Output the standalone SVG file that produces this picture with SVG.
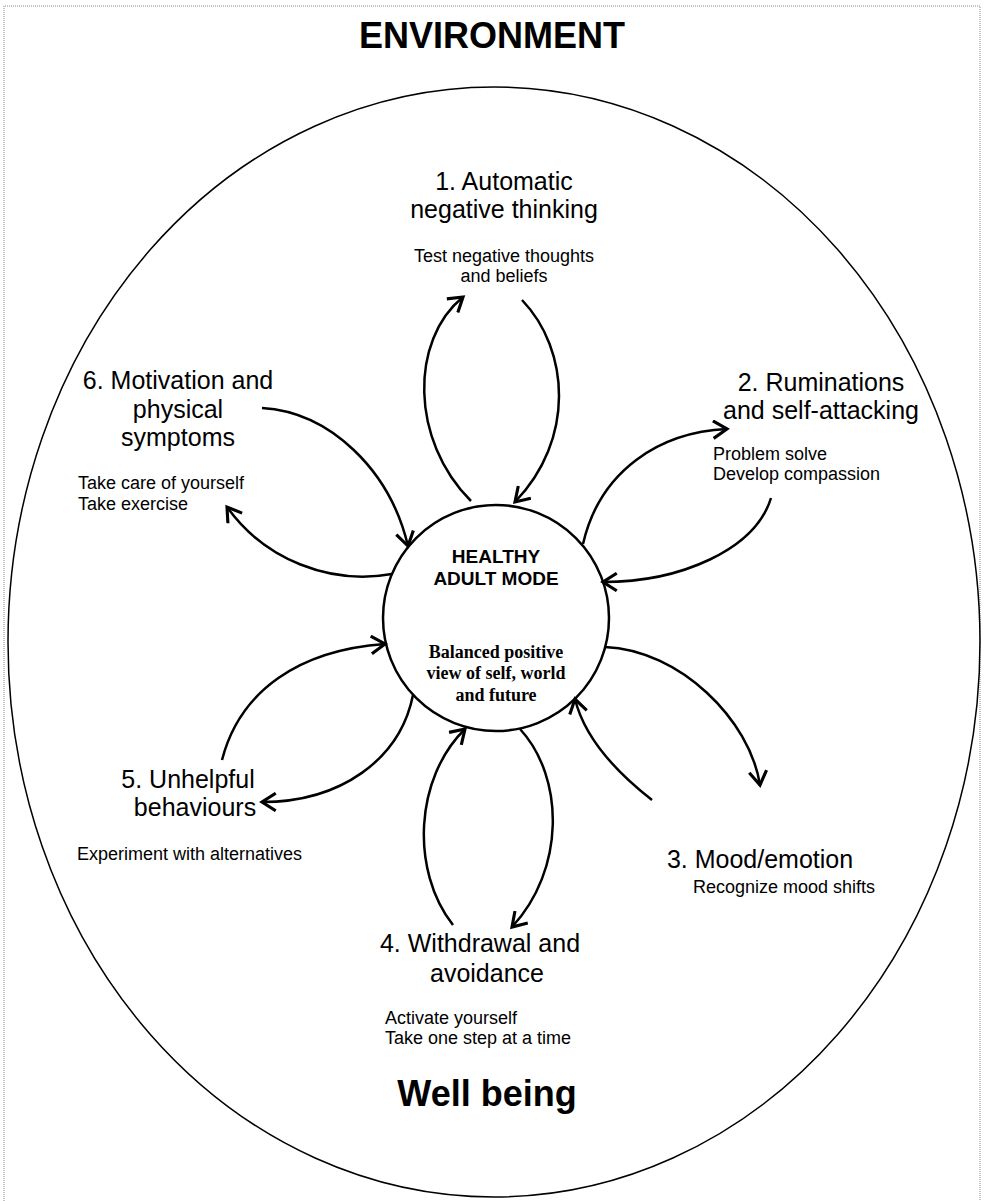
<svg xmlns="http://www.w3.org/2000/svg" width="985" height="1201" viewBox="0 0 985 1201">
<style>
.big{font-family:"Liberation Sans",Arial,sans-serif;font-size:25px;fill:#000;text-anchor:middle}
.sm{font-family:"Liberation Sans",Arial,sans-serif;font-size:18px;fill:#000}
.hd{font-family:"Liberation Sans",Arial,sans-serif;font-size:36px;font-weight:bold;fill:#000;text-anchor:middle}
.cl{fill:none;stroke:#000;stroke-width:2.5;marker-end:url(#ah)}
</style>
<defs>
<marker id="ah" markerUnits="userSpaceOnUse" markerWidth="20" markerHeight="20" refX="13" refY="8" orient="auto" viewBox="0 0 16 16">
<path d="M2,1 L13,8 L2,15" fill="none" stroke="#000" stroke-width="2.5"/>
</marker>
</defs>
<rect width="985" height="1201" fill="#fff"/>
<path d="M4,1201 V6 H980 V1201" fill="none" stroke="#888" stroke-width="1" stroke-dasharray="1,1"/>
<g id="environment">
<ellipse cx="494" cy="642" rx="486" ry="555" fill="none" stroke="#000" stroke-width="1.5"/>
<text class="hd" x="492" y="48">ENVIRONMENT</text>
<text class="hd" x="487" y="1106">Well being</text>
</g>
<g id="healthy-adult-mode">
<circle cx="496" cy="618" r="113" fill="#fff" stroke="#000" stroke-width="2.5"/>
<text font-family="Liberation Sans,Arial,sans-serif" font-size="19" font-weight="bold" text-anchor="middle" x="496" y="563">HEALTHY</text>
<text font-family="Liberation Sans,Arial,sans-serif" font-size="19" font-weight="bold" text-anchor="middle" x="496" y="585">ADULT MODE</text>
<text font-family="Liberation Serif,Times New Roman,serif" font-size="18" font-weight="bold" text-anchor="middle" x="496" y="658">Balanced positive</text>
<text font-family="Liberation Serif,Times New Roman,serif" font-size="18" font-weight="bold" text-anchor="middle" x="496" y="679">view of self, world</text>
<text font-family="Liberation Serif,Times New Roman,serif" font-size="18" font-weight="bold" text-anchor="middle" x="496" y="701">and future</text>
</g>
<g id="node1">
<text class="big" x="504" y="190">1. Automatic</text>
<text class="big" x="504" y="218">negative thinking</text>
<text class="sm" text-anchor="middle" x="504" y="262">Test negative thoughts</text>
<text class="sm" text-anchor="middle" x="504" y="282">and beliefs</text>
</g>
<g id="node2">
<text class="big" x="821" y="391">2. Ruminations</text>
<text class="big" x="821" y="419">and self-attacking</text>
<text class="sm" x="713" y="460">Problem solve</text>
<text class="sm" x="713" y="480">Develop compassion</text>
</g>
<g id="node3">
<text class="big" x="760" y="868">3. Mood/emotion</text>
<text class="sm" x="693" y="893">Recognize mood shifts</text>
</g>
<g id="node4">
<text class="big" x="480" y="952">4. Withdrawal and</text>
<text class="big" x="487" y="982">avoidance</text>
<text class="sm" x="385" y="1024">Activate yourself</text>
<text class="sm" x="385" y="1044">Take one step at a time</text>
</g>
<g id="node5">
<text class="big" x="188" y="788">5. Unhelpful</text>
<text class="big" x="195" y="816">behaviours</text>
<text class="sm" x="77" y="860">Experiment with alternatives</text>
</g>
<g id="node6">
<text class="big" x="178" y="389">6. Motivation and</text>
<text class="big" x="178" y="418">physical</text>
<text class="big" x="178" y="446">symptoms</text>
<text class="sm" x="78" y="489">Take care of yourself</text>
<text class="sm" x="78" y="510">Take exercise</text>
</g>
<g id="connectors">
<path class="cl" d="M471,501 C410,440 410,340 463,297"/>
<path class="cl" d="M522,300 C570,350 575,440 515,502"/>
<path class="cl" d="M583,544 C600,470 660,432 727,429"/>
<path class="cl" d="M771,498 C755,550 680,582 603,582"/>
<path class="cl" d="M605,647 C680,650 750,720 760,785"/>
<path class="cl" d="M652,800 C620,775 585,740 575,699"/>
<path class="cl" d="M520,729 C565,778 565,870 512,927"/>
<path class="cl" d="M453,925 C410,870 415,778 465,729"/>
<path class="cl" d="M413,695 C400,760 340,802 262,802"/>
<path class="cl" d="M222,760 C240,690 300,650 385,644"/>
<path class="cl" d="M392,574 C330,585 265,560 227,507"/>
<path class="cl" d="M262,408 C330,412 390,470 408,546"/>
</g>
</svg>
